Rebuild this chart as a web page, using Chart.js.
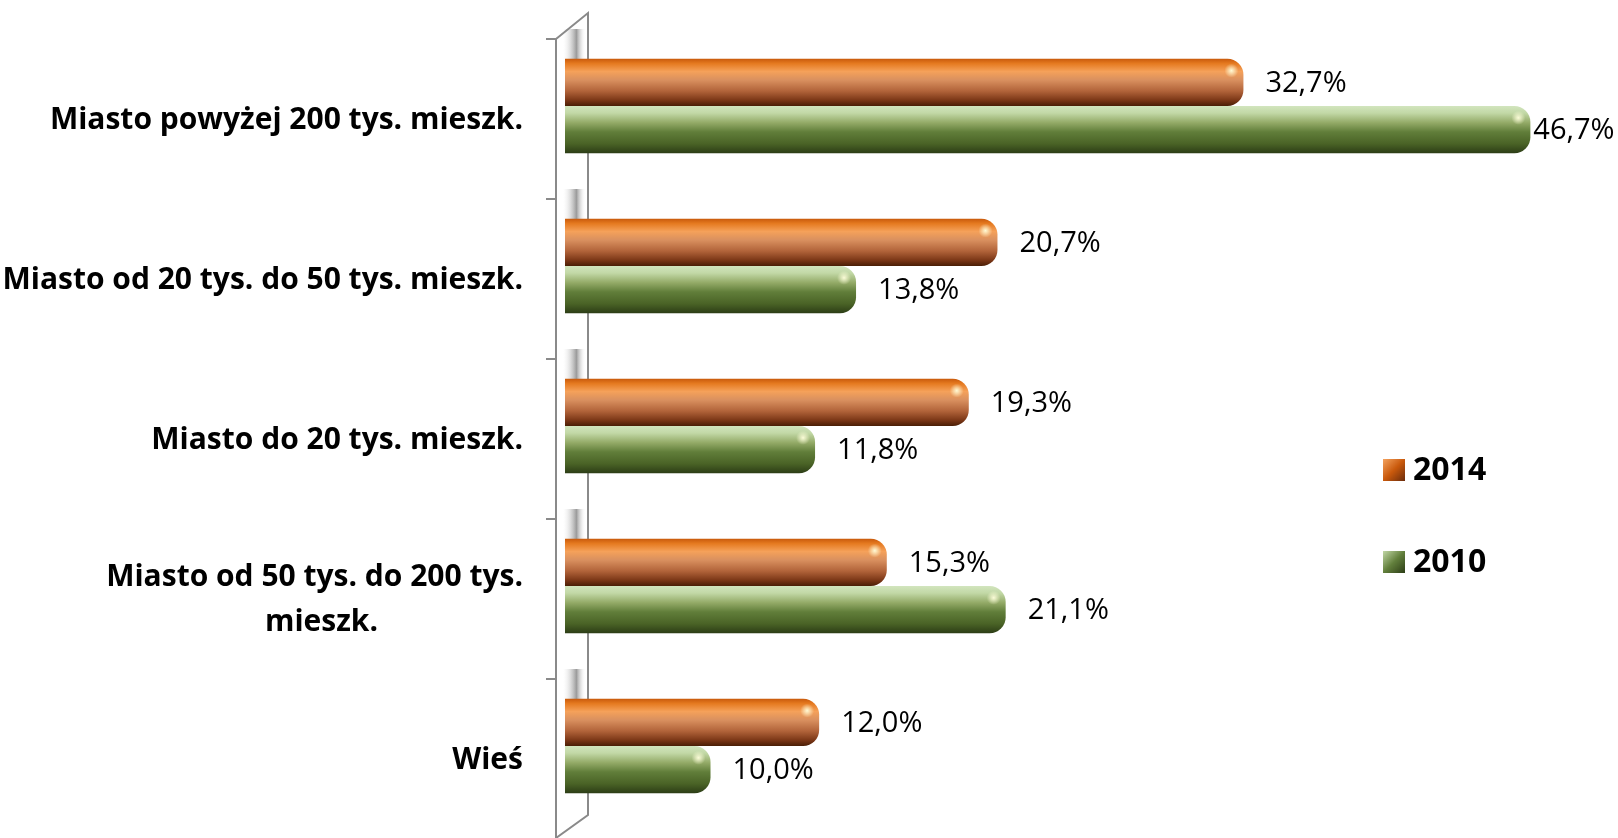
<!DOCTYPE html>
<html>
<head>
<meta charset="utf-8">
<script src="https://cdn.jsdelivr.net/npm/chart.js@4.4.1/dist/chart.umd.min.js"></script>
<style>
    html, body { margin: 0; padding: 0; background: #fff; }
    #wrap { position: relative; width: 1618px; height: 838px; }
    #legenda { position: absolute; left: 1383px; top: 445px; font-family: "Open Sans", sans-serif; font-weight: bold; font-size: 32px; color: #000; }
    #legenda div { height: 46px; line-height: 46px; white-space: nowrap; margin-bottom: 46px; }
    #legenda span { display: inline-block; width: 22px; height: 22px; margin-right: 8px; vertical-align: -1px; }
</style>
</head>
<body>
<div id="wrap">
    <canvas id="grafico1" width="1618" height="838"></canvas>
    <div id="legenda"></div>
</div>
<script>
var categorias = [
    "Miasto powyżej 200 tys. mieszk.",
    "Miasto od 20 tys. do 50 tys. mieszk.",
    "Miasto do 20 tys. mieszk.",
    ["Miasto od 50 tys. do 200 tys.", "mieszk." + "\u2007".repeat(8) + " "],
    "Wieś"
];
var series = ["2014", "2010"];
var valores2014 = [32.7, 20.7, 19.3, 15.3, 12.0];
var valores2010 = [46.7, 13.8, 11.8, 21.1, 6.7];
var rotulos2014 = ["32,7%", "20,7%", "19,3%", "15,3%", "12,0%"];
var rotulos2010 = ["46,7%", "13,8%", "11,8%", "21,1%", "10,0%"];

var fonte = "'Open Sans', sans-serif";

var coresLaranja = [[0, "#c95a0c"], [0.1, "#e57a20"], [0.27, "#f5a15a"], [0.45, "#d9905f"], [0.68, "#b2643a"], [0.88, "#7a3616"], [1, "#4a1e06"]];
var coresVerde = [[0, "#d2e5be"], [0.15, "#c2d8a6"], [0.35, "#94ab68"], [0.55, "#617e3a"], [0.8, "#4a6326"], [1, "#2c3d16"]];

function gradiente(paradas) {
    return function(context) {
        var el = context.element;
        if (!el || el.y === undefined || isNaN(el.y)) {
            return paradas[3][1];
        }
        var c = context.chart.ctx;
        var h = el.height;
        var g = c.createLinearGradient(0, el.y - h / 2, 0, el.y + h / 2);
        paradas.forEach(function(p) { g.addColorStop(p[0], p[1]); });
        return g;
    };
}

// parede 3D e linhas do eixo
var parede = {
    id: "parede",
    beforeDatasetsDraw: function(chart) {
        var c = chart.ctx;
        var area = chart.chartArea;
        var y = chart.scales.y;
        var banda = (area.bottom - area.top) / categorias.length;
        var fx = area.left - 9, bx = area.left + 23, dy = 13;
        c.save();
        // sombra cinza no topo de cada faixa
        for (var i = 0; i < categorias.length; i++) {
            var topo = y.getPixelForValue(i) - banda / 2 + dy;
            var g = c.createLinearGradient(area.left - 3, 0, area.left + 21, 0);
            g.addColorStop(0, "rgba(255,255,255,0)");
            g.addColorStop(0.6, "rgba(130,130,130,0.8)");
            g.addColorStop(1, "rgba(255,255,255,0)");
            c.fillStyle = g;
            c.fillRect(area.left - 3, topo - 10, 24, 40);
        }
        c.strokeStyle = "#8a8a8a";
        c.lineWidth = 2;
        c.beginPath();
        c.moveTo(fx, area.top + dy);
        c.lineTo(fx, area.bottom + dy + 5);
        c.moveTo(fx, area.top + dy);
        c.lineTo(bx, area.top - dy);
        c.lineTo(bx, area.bottom - 11);
        c.lineTo(fx, area.bottom + 12);
        for (var k = 0; k <= categorias.length; k++) {
            var ty = area.top + k * banda + dy;
            c.moveTo(fx - 10, ty);
            c.lineTo(fx, ty);
        }
        c.stroke();
        c.restore();
    }
};

// brilho na ponta e rotulos de dados
var rotulos = {
    id: "rotulos",
    afterDatasetsDraw: function(chart) {
        var c = chart.ctx;
        var textos = [rotulos2014, rotulos2010];
        c.save();
        chart.data.datasets.forEach(function(ds, i) {
            chart.getDatasetMeta(i).data.forEach(function(bar) {
                var hx = bar.x - 12, hy = bar.y - bar.height / 4;
                var g = c.createRadialGradient(hx, hy, 0, hx, hy, 7);
                g.addColorStop(0, "rgba(255,255,220,0.95)");
                g.addColorStop(1, "rgba(255,255,220,0)");
                c.fillStyle = g;
                c.fillRect(hx - 7, hy - 7, 14, 14);
            });
        });
        c.font = "29px " + fonte;
        c.fillStyle = "#000";
        c.textBaseline = "middle";
        chart.data.datasets.forEach(function(ds, i) {
            var meta = chart.getDatasetMeta(i);
            meta.data.forEach(function(bar, j) {
                var t = textos[i][j];
                var w = c.measureText(t).width;
                var x = bar.x + 22;
                if (x + w > chart.width - 4) {
                    x = bar.x + 3;
                }
                c.fillText(t, x, bar.y + 1);
            });
        });
        c.restore();
    }
};

var graf = document.getElementById("grafico1");
var grafico = new Chart(graf, {
    type: "bar",
    data: {
        labels: categorias,
        datasets: [{
            label: series[0],
            data: valores2014,
            base: -0.4,
            backgroundColor: gradiente(coresLaranja),
            borderRadius: 16,
            borderSkipped: "start"
        }, {
            label: series[1],
            data: valores2010,
            base: -0.4,
            backgroundColor: gradiente(coresVerde),
            borderRadius: 16,
            borderSkipped: "start"
        }]
    },
    options: {
        indexAxis: "y",
        responsive: false,
        animation: false,
        events: [],
        categoryPercentage: 0.59,
        barPercentage: 1,
        layout: { padding: { top: 26, bottom: 12, right: 20, left: 0 } },
        plugins: {
            legend: { display: false },
            tooltip: { enabled: false }
        },
        scales: {
            x: { display: false, min: -0.4, max: 50 },
            y: {
                afterFit: function(s) {
                    s.width = 565;
                    s.paddingTop = 0;
                    s.paddingBottom = 0;
                },
                grid: { display: false, drawTicks: false },
                border: { display: false },
                ticks: {
                    color: "#000",
                    font: { family: fonte, size: 30, weight: "bold", lineHeight: 1.5 },
                    padding: 42,
                    labelOffset: 14,
                    autoSkip: false
                }
            }
        }
    },
    plugins: [parede, rotulos]
});
grafico.update();

var fundos = [
    "linear-gradient(135deg, #f4a35f, #c9590c 50%, #6a2c0c)",
    "linear-gradient(135deg, #c2d8a6, #627f3c 50%, #2c3d16)"
];
var leg = document.getElementById("legenda");
grafico.data.datasets.forEach(function(ds, i) {
    var d = document.createElement("div");
    d.innerHTML = '<span style="background:' + fundos[i] + '"></span>' + ds.label;
    leg.appendChild(d);
});
</script>
</body>
</html>
